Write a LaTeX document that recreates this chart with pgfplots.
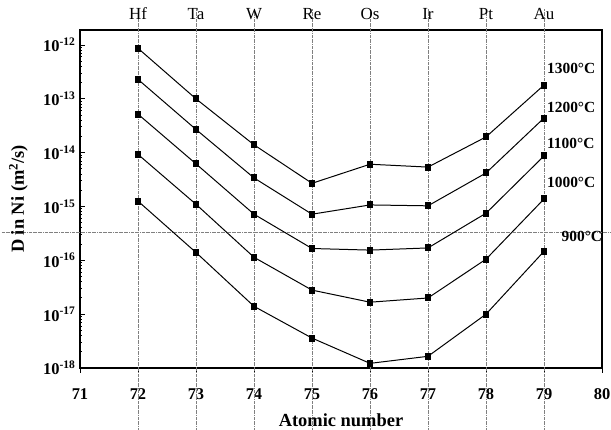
\documentclass[border=0pt]{standalone}
\usepackage{fontspec}
\setmainfont{Liberation Serif}
\usepackage{pgfplots}
\pgfplotsset{compat=1.18}
\begin{document}
\begin{tikzpicture}
\path[use as bounding box] (-80bp,-62bp) rectangle (531bp,368bp);
\begin{axis}[
  at={(0,0)}, anchor=south west,
  scale only axis, width=522bp, height=338bp,
  xmin=71, xmax=80, ymode=log, ymin=1e-18, ymax=1.9e-12,
  clip=false,
  axis line style={line width=1.6pt},
  xtick={71,...,80}, xtick pos=bottom, xtick align=outside,
  ytick={1e-18,1e-17,1e-16,1e-15,1e-14,1e-13,1e-12},
  yticklabels={10\textsuperscript{-18},10\textsuperscript{-17},10\textsuperscript{-16},10\textsuperscript{-15},10\textsuperscript{-14},10\textsuperscript{-13},10\textsuperscript{-12}},
  ytick pos=left,
  major tick length=5pt, minor tick length=2.5pt,
  tick style={line width=1pt, black},
  /pgf/number format/assume math mode=true,
  ticklabel style={font=\fontsize{16.5}{16.5}\selectfont\bfseries},
  xticklabel style={yshift=-12pt},
  yticklabel style={xshift=-1pt},
  xlabel={\textbf{Atomic number}},
  ylabel={\textbf{D in Ni (m\textsuperscript{2}/s)}},
  xlabel style={font=\fontsize{18.5}{18.5}\selectfont, at={(axis description cs:0.5,0)}, anchor=center, yshift=-52bp},
  ylabel style={font=\fontsize{18.5}{18.5}\selectfont, at={(axis description cs:-0.118,0.5)}, anchor=center},
  every axis plot post/.append style={black, line width=1pt, mark=square*, mark size=3pt, mark options={solid}},
]
% reference lines
\foreach \xx in {72,...,79}{
  \edef\tmp{\noexpand\draw[gray, densely dash dot, line width=0.4pt] (axis cs:\xx,6.9e-20) -- (axis cs:\xx,4.6e-12);}
  \tmp
}
\draw[gray, densely dash dot, line width=0.4pt] (axis cs:69.65,3.34e-16) -- (axis cs:80.2,3.34e-16);
% 1300
\addplot coordinates {(72,8.7e-13) (73,1.0e-13) (74,1.4e-14) (75,2.7e-15) (76,6.1e-15) (77,5.4e-15) (78,1.96e-14) (79,1.8e-13)};
% 1200
\addplot coordinates {(72,2.3e-13) (73,2.7e-14) (74,3.4e-15) (75,7.2e-16) (76,1.07e-15) (77,1.03e-15) (78,4.2e-15) (79,4.4e-14)};
% 1100
\addplot coordinates {(72,5.2e-14) (73,6.2e-15) (74,7.2e-16) (75,1.66e-16) (76,1.55e-16) (77,1.7e-16) (78,7.5e-16) (79,8.7e-15)};
% 1000
\addplot coordinates {(72,9.3e-15) (73,1.1e-15) (74,1.14e-16) (75,2.8e-17) (76,1.67e-17) (77,2.0e-17) (78,1.05e-16) (79,1.38e-15)};
% 900
\addplot coordinates {(72,1.26e-15) (73,1.4e-16) (74,1.4e-17) (75,3.6e-18) (76,1.22e-18) (77,1.65e-18) (78,1.0e-17) (79,1.47e-16)};
% temperature labels
\begin{scope}[every node/.style={anchor=west, font=\fontsize{15.5}{15.5}\selectfont\bfseries, inner sep=0pt}]
\node at (axis cs:79.05,3.7e-13) {1300°C};
\node at (axis cs:79.05,6.8e-14) {1200°C};
\node at (axis cs:79.05,1.5e-14) {1100°C};
\node at (axis cs:79.05,2.8e-15) {1000°C};
\node at (axis cs:79.3,2.8e-16) {900°C};
\end{scope}
% element labels
\begin{scope}[every node/.style={anchor=base, font=\fontsize{17}{17}\selectfont, inner sep=0pt}]
\node at (axis cs:72,3.0e-12) {Hf};
\node at (axis cs:73,3.0e-12) {Ta};
\node at (axis cs:74,3.0e-12) {W};
\node at (axis cs:75,3.0e-12) {Re};
\node at (axis cs:76,3.0e-12) {Os};
\node at (axis cs:77,3.0e-12) {Ir};
\node at (axis cs:78,3.0e-12) {Pt};
\node at (axis cs:79,3.0e-12) {Au};
\end{scope}
\end{axis}
\end{tikzpicture}
\end{document}
